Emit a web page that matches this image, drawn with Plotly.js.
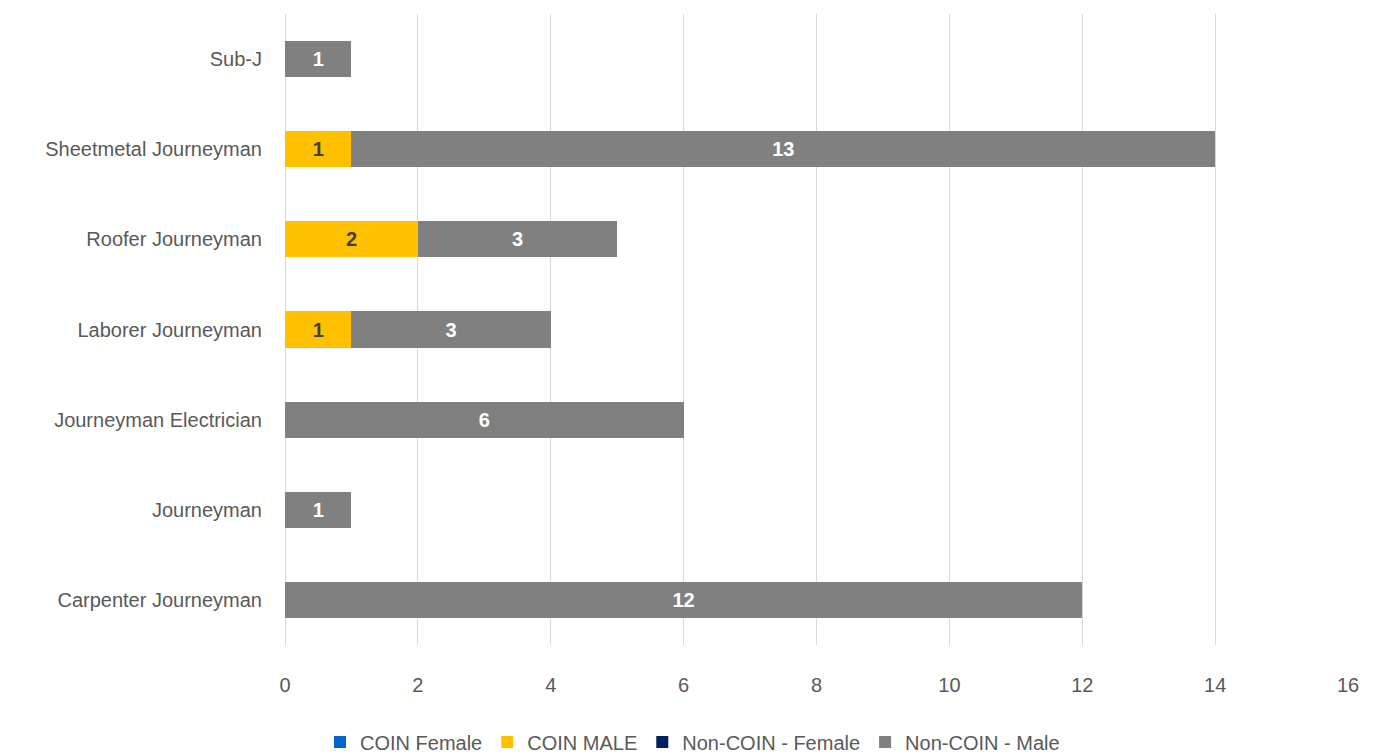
<!DOCTYPE html>
<html>
<head>
<meta charset="utf-8">
<script src="https://cdn.plot.ly/plotly-3.0.1.min.js"></script>
<style>html,body{margin:0;padding:0;background:#fff;}#chart{width:1385px;height:754px;}</style>
</head>
<body>
<div id="chart"></div>
<script>
var categories = ["Carpenter Journeyman", "Journeyman", "Journeyman Electrician", "Laborer Journeyman", "Roofer Journeyman", "Sheetmetal Journeyman", "Sub-J"];
var coinFemale = [0, 0, 0, 0, 0, 0, 0];
var coinMale = [0, 0, 0, 1, 2, 1, 0];
var nonCoinFemale = [0, 0, 0, 0, 0, 0, 0];
var nonCoinMale = [12, 1, 6, 3, 3, 13, 1];
var xTicks = [0, 2, 4, 6, 8, 10, 12, 14, 16];

var FONT = "Liberation Sans, Arial, sans-serif";
function labels(v){ return v.map(function(d){ return d ? String(d) : ""; }); }
function mk(name, vals, color, txtColor){
  return {
    type: "bar", orientation: "h", name: name,
    y: categories, x: vals,
    marker: {color: color},
    text: labels(vals), textposition: "inside", insidetextanchor: "middle",
    textfont: {family: FONT, size: 20, color: txtColor, weight: "bold"},
    constraintext: "none",
    hoverinfo: "x+y+name"
  };
}
var data = [
  mk("COIN Female", coinFemale, "#0066CC", "#ffffff"),
  mk("COIN MALE", coinMale, "#FFC000", "#404040"),
  mk("Non-COIN - Female", nonCoinFemale, "#002060", "#ffffff"),
  mk("Non-COIN - Male", nonCoinMale, "#808080", "#ffffff")
];
var layout = {
  width: 1385, height: 754,
  barmode: "stack", bargap: 0.6,
  margin: {l: 285, r: 37, t: 14, b: 109},
  paper_bgcolor: "#ffffff", plot_bgcolor: "#ffffff",
  font: {family: FONT, size: 20, color: "#595959"},
  xaxis: {
    range: [0, 16], tickvals: xTicks, ticktext: xTicks.map(String),
    showgrid: true, gridcolor: "#d9d9d9", gridwidth: 1.3,
    zeroline: true, zerolinecolor: "#d9d9d9", zerolinewidth: 1.3,
    showline: false, ticks: "", ticklabelstandoff: 26,
    tickfont: {family: FONT, size: 20, color: "#595959"}
  },
  yaxis: {
    categoryorder: "array", categoryarray: categories,
    showgrid: false, zeroline: false, showline: false, ticks: "",
    ticklabelstandoff: 22,
    tickfont: {family: FONT, size: 20, color: "#595959"}
  },
  legend: {
    orientation: "h", xref: "container", yref: "container",
    x: 0.5, xanchor: "center", y: 0.016, yanchor: "middle",
    font: {family: FONT, size: 20, color: "#595959"},
    traceorder: "normal", itemwidth: 30
  },
  showlegend: true
};
Plotly.newPlot("chart", data, layout, {displayModeBar: false});
</script>
</body>
</html>
